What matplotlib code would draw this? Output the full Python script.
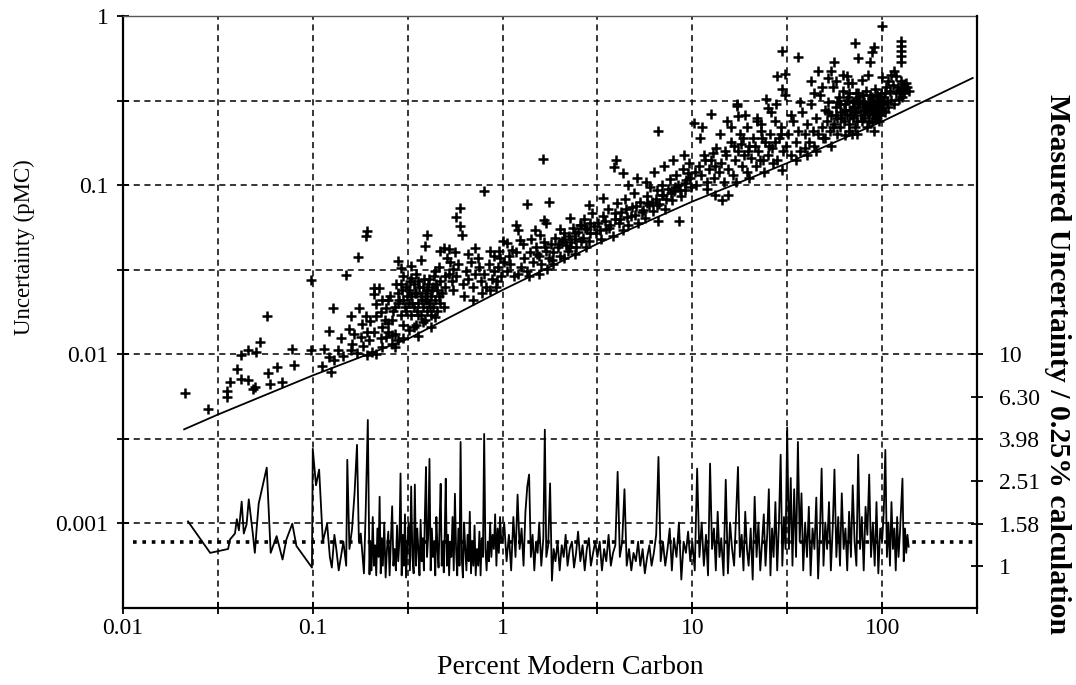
import matplotlib
matplotlib.use('Agg')
import matplotlib.pyplot as plt
from matplotlib.ticker import FixedLocator, FixedFormatter, NullLocator

plt.rcParams['font.family'] = ['Liberation Serif', 'DejaVu Serif']

# ---------------- data ----------------
# measured samples: percent modern carbon vs. uncertainty (pMC)
pmc = [
    0.0213, 0.0281, 0.0354, 0.0354, 0.0366, 0.0398, 0.0418, 0.0455, 0.0418, 0.0455,
    0.050, 0.0526, 0.0572, 0.0483, 0.0495, 0.058, 0.0594, 0.065, 0.0685, 0.078,
    0.080, 0.0982, 0.0982,
    0.122, 0.128, 0.122, 0.129, 0.125, 0.136, 0.150, 0.173, 0.193, 0.19,
    0.159, 0.165, 0.161, 0.159, 0.19, 0.181, 0.193, 0.179, 0.197, 0.193,
    0.204, 0.112, 0.145, 0.17, 0.185, 0.14, 0.115, 0.155, 0.2, 0.175,
    0.209, 0.222, 0.209, 0.215, 0.231, 0.242, 0.228, 0.215, 0.231, 0.25,
    0.242, 0.27, 0.26, 0.231, 0.215, 0.28, 0.27, 0.28, 0.29, 0.30,
    0.33, 0.37, 0.33, 0.40, 0.39, 0.47, 0.49, 0.42, 0.36,
    0.26, 0.27, 0.28, 0.29, 0.3, 0.3, 0.31, 0.31, 0.32, 0.32,
    0.33, 0.33, 0.34, 0.34, 0.35, 0.35, 0.36, 0.36, 0.37, 0.37,
    0.38, 0.38, 0.39, 0.39, 0.4, 0.4, 0.41, 0.41, 0.42, 0.42,
    0.43, 0.43, 0.44, 0.44, 0.45, 0.45, 0.46, 0.47, 0.47, 0.48,
    0.49, 0.5, 0.5, 0.35, 0.29, 0.25, 0.24, 0.26, 0.3, 0.34,
    0.38, 0.44, 0.32, 0.28, 0.36, 0.4, 0.46, 0.25, 0.23, 0.21,
    0.255, 0.265, 0.275, 0.285, 0.295, 0.305, 0.315, 0.325, 0.335, 0.345,
    0.355, 0.365, 0.375, 0.385, 0.395, 0.405, 0.415, 0.425, 0.435, 0.445,
    0.80, 0.60, 0.57, 0.60, 0.61, 1.0, 1.06, 1.12, 0.72, 0.86,
    0.96, 0.97, 1.18, 1.21, 1.23,
    0.52, 0.53, 0.54, 0.55, 0.56, 0.57, 0.58, 0.52, 0.55, 0.51,
    0.62, 0.64, 0.66, 0.68, 0.7, 0.72, 0.75, 0.77, 0.8, 0.82,
    0.85, 0.88, 0.9, 0.93, 0.95, 0.98, 1.02, 1.05, 1.08, 1.1,
    0.63, 0.7, 0.78, 0.86, 0.92, 0.66, 0.74, 0.9, 1.15, 1.18,
    1.64, 1.34, 1.75, 1.66, 1.69, 1.49, 1.58, 2.26, 2.55, 2.85,
    1.25, 1.3, 1.35, 1.4, 1.45, 1.5, 1.55, 1.6, 1.65, 1.7,
    1.75, 1.8, 1.85, 1.9, 1.95, 2.0, 2.05, 2.1, 2.15, 2.2,
    2.25, 2.3, 2.35, 2.4, 2.45, 2.5, 2.6, 2.65, 2.7, 2.8,
    2.85, 2.9, 2.95, 1.28, 1.42, 1.55, 1.85, 2.1, 2.4, 2.75,
    1.2, 1.38, 1.72, 2.0,
    1.52, 1.68, 1.82, 1.98, 2.12, 2.28, 2.42, 2.58, 2.72, 2.88,
    3.05, 3.25, 3.45, 3.65, 3.9, 4.15, 4.45, 4.75, 5.05, 5.4,
    5.75, 6.1, 6.5, 6.9, 7.3, 7.7, 8.1, 8.6, 9.1, 9.7,
    3.98, 3.85, 4.3, 6.6, 8.5, 6.6,
    3.1, 3.2, 3.3, 3.4, 3.5, 3.6, 3.7, 3.8, 3.9, 4.0,
    4.1, 4.2, 4.3, 4.4, 4.5, 4.6, 4.8, 4.9, 5.0, 5.2,
    5.3, 5.5, 5.6, 5.8, 5.9, 6.0, 6.2, 6.4, 6.5, 6.7,
    6.9, 7.0, 7.2, 7.4, 7.6, 7.8, 8.0, 8.2, 8.4, 8.7,
    8.9, 9.1, 9.3, 9.5, 9.8, 5.1, 5.7, 6.3, 7.1, 7.9,
    3.4, 4.6, 9.0, 9.6,
    12.5, 10.2, 11.3, 15.2, 17.2, 17.2, 17.4, 19.5, 21.8, 24.5,
    25, 27.5, 29.6, 30.8, 28, 30.8, 29.6, 13.2, 14.4, 15.5,
    29.6,
    10.5, 10.8, 11.1, 11.5, 11.9, 12.2, 12.6, 13.0, 13.4, 13.8,
    14.1, 14.6, 15.0, 15.4, 15.9, 16.3, 16.8, 17.3, 17.8, 18.3,
    18.8, 19.3, 19.8, 20.4, 21.0, 21.6, 22.2, 22.9, 23.5, 24.2,
    24.9, 25.6, 26.3, 27.1, 27.9, 28.7, 29.5, 30.2, 11.0, 14.0,
    16.0, 19.0, 22.0, 26.0, 20.0, 24.0, 12.0, 17.0, 26.5, 23.0,
    10.3, 11.7, 13.1, 14.8, 16.5, 18.1, 19.6, 21.3, 23.2, 25.2,
    27.3, 29.3, 12.9, 18.6, 22.6,
    36.2, 56, 74.5, 88, 91, 86, 46, 54, 65, 72,
    100, 63.5, 69, 74, 54, 39, 91,
    31, 32, 33, 34, 35, 36, 37, 38, 39, 40,
    41, 42, 43, 44, 45, 46, 47, 48, 49, 50,
    51, 52, 53, 54, 55, 56, 57, 58, 59, 60,
    61, 62, 63, 64, 65, 66, 67, 68, 69, 70,
    71, 72, 73, 74, 75, 76, 77, 78, 79, 80,
    81, 82, 83, 84, 85, 86, 87, 88, 89, 90,
    91, 92, 93, 94, 95, 96, 97, 98, 99, 100,
    60, 65, 70, 75, 80, 85, 90, 95, 78, 83,
    88, 92, 96, 72, 67, 58, 50, 45, 40, 35,
    48, 52, 57, 62, 66, 84, 44, 37, 33, 42,
    52, 55, 58, 61, 64, 67, 70, 73, 76, 79,
    82, 85, 88, 91, 94, 97, 99, 68, 74, 80,
    86, 92, 98, 63, 57,
    125.6, 125.6, 125.6, 125.6, 125.6, 115.6, 118, 126, 131, 128,
    122, 100, 105,
    101, 102, 103, 104, 106, 108, 110, 112, 114, 116,
    119, 121, 124, 127, 130, 133, 136, 138, 107, 111,
]
unc = [
    0.0059, 0.00474, 0.00606, 0.00559, 0.00684, 0.00816, 0.00713, 0.00703, 0.00986, 0.01057,
    0.0103, 0.01177, 0.01695, 0.00622, 0.0064, 0.00773, 0.00667, 0.0084, 0.00684, 0.0107,
    0.0086, 0.0276, 0.01057,
    0.0138, 0.0187, 0.0096, 0.0093, 0.0079, 0.0106, 0.0296, 0.0377, 0.0536, 0.050,
    0.0169, 0.0131, 0.0115, 0.0106, 0.0169, 0.0151, 0.0136, 0.0126, 0.0121, 0.0099,
    0.0103, 0.0085, 0.0098, 0.0102, 0.0112, 0.0125, 0.0108, 0.0142, 0.0158, 0.0188,
    0.0248, 0.0248, 0.0226, 0.0197, 0.0208, 0.0189, 0.0177, 0.0169, 0.0144, 0.0154,
    0.0126, 0.0131, 0.0115, 0.011, 0.0100, 0.0121, 0.011, 0.0357, 0.0325, 0.0292,
    0.0334, 0.0362, 0.0284, 0.0508, 0.0438, 0.0409, 0.0426, 0.0144, 0.0129,
    0.016, 0.019, 0.023, 0.017, 0.021, 0.015, 0.025, 0.018, 0.02, 0.014,
    0.022, 0.017, 0.026, 0.019, 0.015, 0.023, 0.02, 0.027, 0.017, 0.022,
    0.019, 0.025, 0.016, 0.021, 0.024, 0.018, 0.028, 0.02, 0.022, 0.017,
    0.025, 0.019, 0.021, 0.031, 0.018, 0.024, 0.022, 0.027, 0.02, 0.023,
    0.019, 0.025, 0.029, 0.03, 0.026, 0.021, 0.016, 0.013, 0.0125, 0.0145,
    0.0155, 0.0165, 0.024, 0.02, 0.017, 0.021, 0.033, 0.0135, 0.0125, 0.0135,
    0.022, 0.018, 0.026, 0.021, 0.024, 0.019, 0.022, 0.027, 0.02, 0.023,
    0.018, 0.025, 0.021, 0.028, 0.023, 0.026, 0.019, 0.024, 0.029, 0.026,
    0.092, 0.073, 0.065, 0.057, 0.051, 0.0469, 0.0456, 0.0415, 0.0426, 0.0409,
    0.0409, 0.0372, 0.058, 0.054, 0.0475,
    0.03, 0.035, 0.027, 0.032, 0.04, 0.029, 0.034, 0.042, 0.024, 0.037,
    0.026, 0.031, 0.028, 0.035, 0.025, 0.03, 0.033, 0.027, 0.03, 0.025,
    0.034, 0.028, 0.031, 0.027, 0.033, 0.029, 0.035, 0.031, 0.038, 0.034,
    0.022, 0.021, 0.023, 0.024, 0.025, 0.039, 0.037, 0.038, 0.029, 0.04,
    0.142, 0.077, 0.079, 0.062, 0.060, 0.054, 0.051, 0.064, 0.058, 0.076,
    0.033, 0.037, 0.031, 0.04, 0.035, 0.043, 0.038, 0.034, 0.046, 0.041,
    0.037, 0.045, 0.04, 0.049, 0.043, 0.038, 0.047, 0.052, 0.044, 0.041,
    0.05, 0.046, 0.056, 0.048, 0.043, 0.053, 0.058, 0.049, 0.063, 0.055,
    0.047, 0.06, 0.068, 0.045, 0.048, 0.03, 0.034, 0.037, 0.039, 0.043,
    0.03, 0.029, 0.032, 0.055,
    0.039, 0.043, 0.036, 0.045, 0.048, 0.043, 0.052, 0.047, 0.056, 0.052,
    0.057, 0.054, 0.061, 0.056, 0.068, 0.063, 0.072, 0.066, 0.075, 0.069,
    0.078, 0.08, 0.076, 0.087, 0.083, 0.09, 0.098, 0.093, 0.103, 0.11,
    0.14, 0.128, 0.118, 0.208, 0.061, 0.061,
    0.052, 0.06, 0.048, 0.066, 0.055, 0.072, 0.058, 0.05, 0.063, 0.078,
    0.06, 0.069, 0.054, 0.083, 0.065, 0.058, 0.074, 0.09, 0.067, 0.06,
    0.08, 0.071, 0.064, 0.086, 0.076, 0.098, 0.07, 0.083, 0.093, 0.077,
    0.1, 0.088, 0.072, 0.095, 0.108, 0.082, 0.092, 0.115, 0.1, 0.086,
    0.125, 0.094, 0.107, 0.118, 0.098, 0.11, 0.104, 0.12, 0.13, 0.14,
    0.084, 0.1, 0.15, 0.135,
    0.265, 0.232, 0.222, 0.241, 0.303, 0.292, 0.255, 0.222, 0.241, 0.325,
    0.284, 0.303, 0.372, 0.339, 0.444, 0.456, 0.622, 0.087, 0.082, 0.087,
    0.123,
    0.1, 0.13, 0.115, 0.15, 0.105, 0.125, 0.14, 0.11, 0.165, 0.12,
    0.135, 0.105, 0.15, 0.125, 0.18, 0.115, 0.14, 0.16, 0.2, 0.13,
    0.15, 0.12, 0.17, 0.145, 0.19, 0.13, 0.16, 0.21, 0.14, 0.18,
    0.15, 0.2, 0.165, 0.24, 0.14, 0.19, 0.22, 0.16, 0.19, 0.2,
    0.22, 0.26, 0.25, 0.27, 0.11, 0.12, 0.095, 0.105, 0.135, 0.23,
    0.12, 0.14, 0.13, 0.16, 0.17, 0.175, 0.16, 0.17, 0.19, 0.17,
    0.18, 0.2, 0.155, 0.19, 0.14,
    0.574, 0.536, 0.566, 0.614, 0.657, 0.536, 0.475, 0.475, 0.444, 0.694,
    0.873, 0.197, 0.2, 0.2, 0.17, 0.165, 0.21,
    0.17, 0.2, 0.15, 0.24, 0.18, 0.21, 0.16, 0.27, 0.2, 0.23,
    0.18, 0.3, 0.21, 0.17, 0.25, 0.2, 0.34, 0.22, 0.19, 0.28,
    0.24, 0.31, 0.21, 0.26, 0.38, 0.23, 0.29, 0.25, 0.33, 0.22,
    0.27, 0.36, 0.24, 0.3, 0.26, 0.33, 0.23, 0.28, 0.4, 0.25,
    0.31, 0.27, 0.35, 0.24, 0.29, 0.33, 0.26, 0.42, 0.3, 0.25,
    0.28, 0.36, 0.27, 0.31, 0.24, 0.34, 0.28, 0.3, 0.26, 0.32,
    0.27, 0.37, 0.29, 0.25, 0.31, 0.28, 0.33, 0.26, 0.3, 0.28,
    0.3, 0.32, 0.29, 0.35, 0.31, 0.29, 0.27, 0.26, 0.24, 0.22,
    0.235, 0.25, 0.24, 0.22, 0.21, 0.2, 0.19, 0.16, 0.15, 0.14,
    0.38, 0.43, 0.41, 0.45, 0.4, 0.45, 0.35, 0.31, 0.26, 0.41,
    0.27, 0.22, 0.31, 0.25, 0.28, 0.35, 0.31, 0.27, 0.3, 0.34,
    0.29, 0.27, 0.33, 0.29, 0.34, 0.31, 0.35, 0.26, 0.32, 0.28,
    0.31, 0.3, 0.32, 0.28, 0.26,
    0.713, 0.667, 0.622, 0.582, 0.536, 0.475, 0.444, 0.415, 0.398, 0.334,
    0.325, 0.437, 0.382,
    0.3, 0.33, 0.27, 0.35, 0.31, 0.29, 0.36, 0.32, 0.39, 0.3,
    0.35, 0.38, 0.36, 0.37, 0.35, 0.4, 0.38, 0.36, 0.41, 0.45,
]

# calculated (0.25%) uncertainty curve
fit_pmc = [0.021, 0.0316, 0.1, 0.316, 1, 3.16, 10, 31.6, 100, 300]
fit_unc = [0.0036, 0.0044, 0.0075, 0.0123, 0.024, 0.045, 0.080, 0.135, 0.238, 0.43]

# ratio measured / calculated (right axis)
ratio_pmc = [
    0.022, 0.0288, 0.0358, 0.0366, 0.0389, 0.0398, 0.0408, 0.0422, 0.0433, 0.0448,
    0.046, 0.0483, 0.0495, 0.0507, 0.0519, 0.0572, 0.06, 0.0645, 0.0693, 0.0726,
    0.078, 0.082, 0.099,
    0.100, 0.104, 0.108, 0.113, 0.119, 0.123, 0.126, 0.13, 0.133, 0.137,
    0.141, 0.145, 0.15, 0.152, 0.156, 0.161, 0.166, 0.171, 0.175, 0.179,
    0.183, 0.186, 0.19, 0.195, 0.199,
    0.201, 0.204, 0.207, 0.21, 0.213, 0.216, 0.219, 0.222, 0.225, 0.228,
    0.231, 0.234, 0.238, 0.242, 0.246, 0.25, 0.254, 0.258, 0.262, 0.266,
    0.27, 0.274, 0.278, 0.282, 0.286, 0.29, 0.294, 0.298, 0.302, 0.306,
    0.31, 0.315, 0.32, 0.325, 0.33, 0.335, 0.34, 0.345, 0.35, 0.355,
    0.36, 0.365, 0.37, 0.375, 0.38, 0.385, 0.39, 0.395, 0.4, 0.406,
    0.412, 0.418, 0.424, 0.43, 0.436, 0.442, 0.448, 0.454, 0.46, 0.466,
    0.472, 0.478, 0.484, 0.49, 0.496,
    0.502, 0.509, 0.516, 0.523, 0.53, 0.537, 0.545, 0.553, 0.561, 0.569,
    0.577, 0.585, 0.593, 0.601, 0.609, 0.618, 0.627, 0.636, 0.645, 0.654,
    0.663, 0.672, 0.682, 0.692, 0.702, 0.712, 0.722, 0.733, 0.744, 0.755,
    0.766, 0.777, 0.788, 0.8, 0.812, 0.824, 0.836, 0.848, 0.86, 0.873,
    0.886, 0.9, 0.914, 0.928, 0.942, 0.956, 0.97, 0.985,
    1.0, 1.02, 1.05, 1.08, 1.11, 1.14, 1.17, 1.2, 1.23, 1.26,
    1.29, 1.32, 1.35, 1.38, 1.41, 1.44, 1.47, 1.5, 1.53, 1.56,
    1.6, 1.64, 1.67, 1.7, 1.74, 1.78, 1.82, 1.86, 1.9, 1.95,
    2.0, 2.05, 2.1, 2.15, 2.2, 2.26, 2.32, 2.38, 2.44, 2.5,
    2.57, 2.64, 2.71, 2.78, 2.85, 2.92, 3.0, 3.08,
    3.16, 3.25, 3.34, 3.43, 3.52, 3.62, 3.72, 3.82, 3.93, 4.04,
    4.15, 4.27, 4.39, 4.51, 4.64, 4.77, 4.9, 5.04, 5.18, 5.32,
    5.47, 5.62, 5.78, 5.94, 6.1, 6.27, 6.45, 6.63, 6.81, 7.0,
    7.2, 7.4, 7.6, 7.8, 8.0, 8.25, 8.5, 8.75, 9.0, 9.25,
    9.5, 9.75,
    10.0, 10.3, 10.6, 10.9, 11.2, 11.5, 11.8, 12.1, 12.4, 12.7,
    13.0, 13.3, 13.6, 13.9, 14.2, 14.6, 15.0, 15.4, 15.8, 16.2,
    16.6, 17.0, 17.4, 17.8, 18.2, 18.6, 19.0, 19.4, 19.8, 20.3,
    20.8, 21.3, 21.8, 22.3, 22.8, 23.3, 23.8, 24.3, 24.8, 25.3,
    25.8, 26.3, 26.8, 27.4, 28.0, 28.6, 29.2, 29.8, 30.4, 31.0,
    31.6, 32.3, 33.0, 33.7, 34.4, 35.2, 36.0, 36.8, 37.6, 38.4,
    39.3, 40.2, 41.1, 42.0, 43.0, 44.0, 45.0, 46.0, 47.0, 48.0,
    49.1, 50.2, 51.3, 52.5, 53.7, 54.9, 56.1, 57.4, 58.7, 60.0,
    61.3, 62.7, 64.1, 65.5, 67.0, 68.5, 70.0, 71.6, 73.2, 74.8,
    76.5, 78.2, 80.0, 81.8, 83.6, 85.5, 87.4, 89.4, 91.4, 93.4,
    95.5, 97.7,
    100, 102, 104, 106, 108, 110, 112, 114, 116, 118,
    120, 122, 124, 126, 128, 130, 132, 134, 136, 138,
]
ratio = [
    1.62, 1.15, 1.2, 1.33, 1.42, 1.66, 1.47, 2.01, 1.42, 1.57,
    2.06, 1.42, 1.15, 1.53, 1.97, 2.91, 1.15, 1.38, 1.07, 1.33,
    1.58, 1.24, 0.98,
    3.57, 2.4, 2.85, 1.3, 1.58, 1.1, 0.98, 1.4, 1.2, 0.95,
    1.11, 1.3, 1.0, 3.17, 1.2, 1.49, 2.2, 3.73, 1.3, 1.42,
    1.1, 0.92, 1.8, 4.89, 0.91,
    1.3, 0.95, 1.7, 1.0, 1.25, 0.9, 1.5, 1.1, 2.12, 0.92,
    1.35, 1.0, 1.6, 0.88, 1.2, 1.45, 0.9, 1.3, 1.91, 1.0,
    1.2, 0.95, 1.55, 1.05, 1.3, 2.73, 0.9, 1.4, 1.0, 1.75,
    0.88, 1.25, 1.6, 0.95, 2.37, 1.1, 0.92, 2.42, 1.0, 1.5,
    1.2, 0.9, 1.65, 1.05, 1.35, 0.95, 1.8, 2.93, 1.1, 1.4,
    3.2, 0.95, 1.5, 1.1, 1.3, 0.9, 1.7, 1.2, 0.98, 1.6,
    2.44, 1.0, 1.3, 0.93, 1.45,
    2.58, 1.0, 1.4, 0.9, 1.3, 1.1, 1.7, 0.95, 2.19, 1.2,
    0.9, 1.5, 1.0, 3.85, 1.1, 0.88, 1.6, 1.2, 0.95, 1.4,
    1.05, 1.8, 0.92, 1.3, 1.0, 1.55, 0.9, 1.2, 1.0, 1.45,
    0.9, 1.35, 1.1, 4.2, 1.2, 0.95, 1.3, 1.05, 1.6, 1.1,
    1.4, 1.2, 1.75, 1.0, 1.5, 1.15, 1.7, 1.3,
    1.3, 1.6, 1.05, 1.4, 0.95, 1.7, 1.1, 2.17, 1.2, 1.5,
    1.0, 1.8, 2.37, 2.7, 1.1, 1.4, 0.95, 1.3, 1.15, 1.6,
    1.0, 1.35, 4.4, 1.1, 1.25, 2.45, 0.85, 1.2, 1.05, 1.3,
    0.95, 1.25, 1.1, 1.4, 1.0, 1.2, 1.3, 0.98, 1.15, 1.45,
    1.05, 1.25, 0.95, 1.2, 1.35, 1.0, 1.15, 1.3,
    1.1, 1.3, 0.95, 1.2, 1.05, 1.4, 1.0, 1.15, 1.25, 2.78,
    1.1, 1.3, 2.3, 1.0, 1.2, 0.95, 1.15, 1.05, 1.3, 1.0,
    1.2, 0.92, 1.1, 1.25, 1.0, 1.15, 1.4, 3.27, 1.05, 1.3,
    1.0, 1.2, 1.5, 0.95, 1.35, 1.1, 1.6, 0.86, 1.3, 1.15,
    1.45, 1.05,
    1.3, 0.95, 2.88, 1.1, 1.6, 1.0, 1.4, 0.9, 3.04, 1.2,
    1.5, 0.95, 1.8, 1.1, 1.35, 0.9, 2.55, 0.92, 1.6, 1.2,
    1.0, 1.7, 2.93, 1.1, 1.4, 0.95, 1.8, 1.2, 1.0, 1.5,
    0.86, 2.12, 1.1, 1.6, 0.95, 1.3, 1.75, 1.0, 1.4, 2.3,
    0.9, 1.5, 1.1, 2.0, 0.95, 1.6, 3.35, 1.0, 1.7, 1.2,
    4.5, 1.2, 2.6, 1.0, 2.3, 1.1, 3.85, 1.3, 2.2, 0.95,
    1.6, 1.1, 1.9, 0.9, 1.5, 1.2, 2.1, 0.87, 1.4, 2.88,
    1.0, 1.6, 1.2, 2.0, 0.95, 1.5, 2.85, 1.1, 1.7, 1.0,
    2.2, 1.2, 1.5, 0.95, 1.8, 1.1, 2.4, 1.3, 1.0, 3.35,
    1.2, 1.7, 0.95, 1.9, 1.4, 2.7, 1.1, 1.6, 1.0, 2.0,
    0.92, 1.5,
    1.3, 1.8, 3.53, 1.1, 1.6, 1.0, 2.0, 1.2, 1.5, 0.95,
    1.7, 1.1, 1.4, 1.9, 2.58, 1.05, 1.5, 1.15, 1.4, 1.23,
]
mean_ratio = 1.30

assert len(pmc) == len(unc), (len(pmc), len(unc))
assert len(ratio_pmc) == len(ratio), (len(ratio_pmc), len(ratio))

# axis ticks
x_ticks = [0.01, 0.0316, 0.1, 0.316, 1, 3.16, 10, 31.6, 100, 316]
x_labels = ['0.01', '', '0.1', '', '1', '', '10', '', '100', '']
y_ticks = [0.000316, 0.001, 0.00316, 0.01, 0.0316, 0.1, 0.316, 1]
y_labels = ['', '0.001', '', '0.01', '', '0.1', '', '1']
r_ticks = [1, 1.58, 2.51, 3.98, 6.30, 10]
r_labels = ['1', '1.58', '2.51', '3.98', '6.30', '10']

# ---------------- figure ----------------
W, H = 1076, 685
fig = plt.figure(figsize=(W / 100, H / 100), dpi=100)
ax_l, ax_r, ax_t, ax_b = 123, 977, 16, 608
ax = fig.add_axes([ax_l / W, 1 - ax_b / H, (ax_r - ax_l) / W, (ax_b - ax_t) / H])
ax.set_xscale('log')
ax.set_yscale('log')
ax.set_xlim(0.01, 10 ** 2.5)
ax.set_ylim(10 ** -3.5, 1)

ax.xaxis.set_major_locator(FixedLocator(x_ticks))
ax.xaxis.set_major_formatter(FixedFormatter(x_labels))
ax.xaxis.set_minor_locator(NullLocator())
ax.yaxis.set_major_locator(FixedLocator(y_ticks))
ax.yaxis.set_major_formatter(FixedFormatter(y_labels))
ax.yaxis.set_minor_locator(NullLocator())

dash = (0, (4, 3))
ax.grid(True, which='major', color='black', linestyle=dash, linewidth=1.1)
ax.set_axisbelow(True)
xg = ax.xaxis.get_gridlines()
yg = ax.yaxis.get_gridlines()
for g in (xg[0], xg[-1], yg[0], yg[-1]):
    g.set_visible(False)

ax.tick_params(axis='both', which='major', direction='inout', length=9, width=1.3,
               labelsize=17, colors='black')
ax.tick_params(axis='x', pad=3)
ax.tick_params(axis='y', pad=6)

for s in ('left', 'bottom'):
    ax.spines[s].set_linewidth(1.6)
ax.spines['top'].set_linestyle((0, (1, 1)))
ax.spines['top'].set_linewidth(1.0)
ax.spines['top'].set_color('#555555')
ax.spines['right'].set_visible(False)

ax.plot(pmc, unc, linestyle='none', marker='+', markersize=6.5, markeredgewidth=1.8,
        color='black')
ax.plot(fit_pmc, fit_unc, color='black', linewidth=1.3)

xlab = ax.set_xlabel('Percent Modern Carbon', fontsize=20)
ax.xaxis.set_label_coords((570 - ax_l) / (ax_r - ax_l), (ax_b - 668) / (ax_b - ax_t))
xlab.set_verticalalignment('center')
ax.set_ylabel('Uncertainty (pMC)', fontsize=16.5)
ax.yaxis.set_label_coords((35 - ax_l) / (ax_r - ax_l), (ax_b - 247) / (ax_b - ax_t))

ax2 = ax.twinx()
ax2.set_yscale('log')
ax2.set_ylim(10 ** -0.2, 10 ** 2.6)
ax2.yaxis.set_major_locator(FixedLocator(r_ticks))
ax2.yaxis.set_major_formatter(FixedFormatter(r_labels))
ax2.yaxis.set_minor_locator(NullLocator())
ax2.tick_params(axis='y', direction='inout', length=9, width=1.3, labelsize=17, pad=11)
for s in ('left', 'bottom', 'top'):
    ax2.spines[s].set_visible(False)
ax2.spines['right'].set_linewidth(1.6)

ax2.plot(ratio_pmc, ratio, color='black', linewidth=1.3)
ax2.axhline(mean_ratio, xmin=0.012, xmax=0.995, color='black', linewidth=2.6,
            linestyle=(0, (1, 1.6)))
ylab2 = ax2.set_ylabel('Measured Uncertainty / 0.25% calculation', fontsize=21.5,
                       fontweight='bold', rotation=270)
ax2.yaxis.set_label_coords((1044 - ax_l) / (ax_r - ax_l), (ax_b - 364) / (ax_b - ax_t))
ylab2.set_verticalalignment('bottom')

fig.savefig('out.png', dpi=100)
